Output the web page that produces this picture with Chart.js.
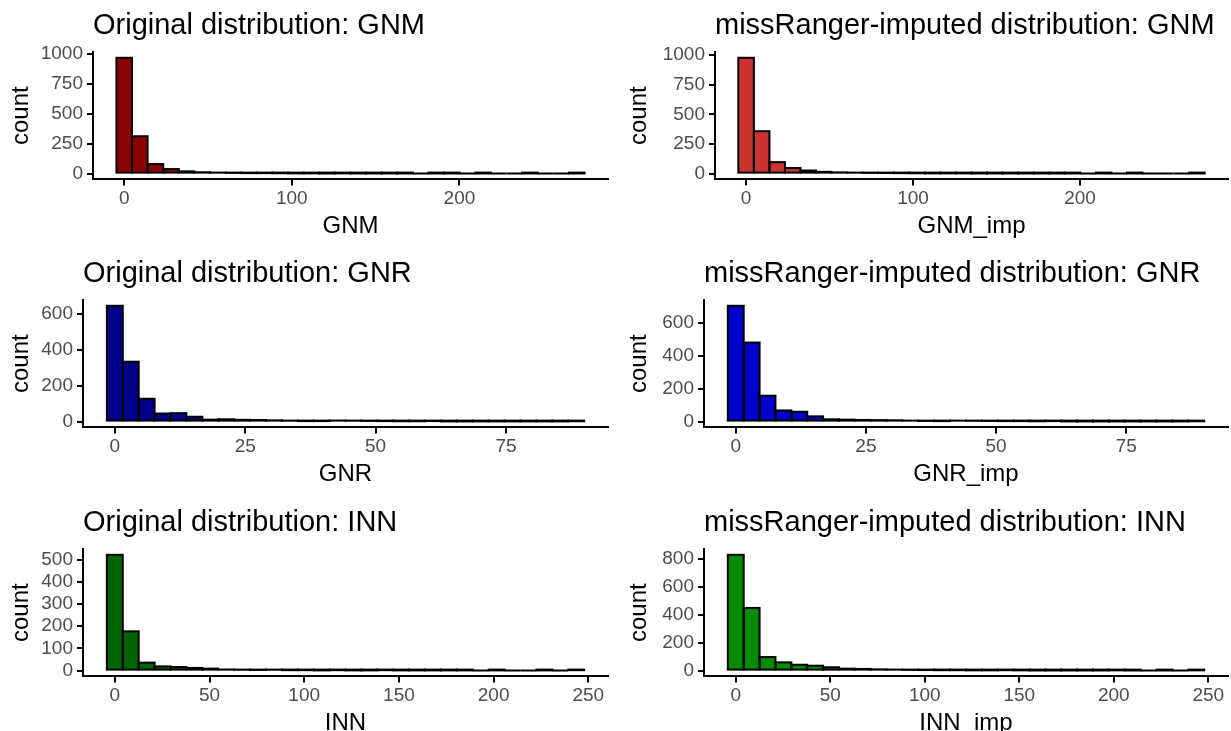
<!DOCTYPE html>
<html>
<head>
<meta charset="utf-8">
<title>Distribuciones originales e imputadas</title>
<script src="https://cdn.jsdelivr.net/npm/chart.js@4.4.1/dist/chart.umd.min.js"></script>
<style>
    html, body { margin: 0; padding: 0; background: #fff; overflow: hidden; width: 1231px; height: 731px; }
    .panel { position: absolute; }
</style>
</head>
<body>
<div class="panel" style="left:0px;top:0px"><canvas id="gnm-orig" width="615" height="241"></canvas></div>
<div class="panel" style="left:615px;top:0px"><canvas id="gnm-imp" width="616" height="241"></canvas></div>
<div class="panel" style="left:0px;top:248px"><canvas id="gnr-orig" width="615" height="241"></canvas></div>
<div class="panel" style="left:615px;top:248px"><canvas id="gnr-imp" width="616" height="241"></canvas></div>
<div class="panel" style="left:0px;top:497px"><canvas id="inn-orig" width="615" height="241"></canvas></div>
<div class="panel" style="left:615px;top:497px"><canvas id="inn-imp" width="616" height="241"></canvas></div>
<script>
// 30 bins por variable (ggplot por defecto), centrados en 0
var nBins = 30;
var gnmBinWidth = 9.31;
var gnrBinWidth = 3.05;
var innBinWidth = 8.4;

// conteos
var gnmOriginal = [967, 312, 80, 38, 19, 11, 8, 6, 4, 4, 3, 2, 2, 1, 2, 1, 1, 1, 1, 0, 1, 1, 0, 1, 0, 0, 1, 0, 0, 1];
var gnmImputed  = [978, 358, 97, 47, 26, 15, 10, 8, 6, 5, 4, 3, 2, 2, 2, 1, 1, 1, 1, 1, 1, 1, 0, 1, 0, 1, 0, 0, 0, 1];
var gnrOriginal = [644, 333, 127, 45, 47, 27, 11, 13, 10, 9, 7, 5, 3, 3, 6, 5, 4, 3, 2, 2, 3, 1, 1, 1, 1, 1, 1, 1, 1, 2];
var gnrImputed  = [706, 482, 158, 68, 60, 32, 14, 12, 10, 9, 8, 6, 4, 3, 6, 5, 4, 3, 3, 2, 3, 1, 1, 1, 1, 1, 1, 1, 1, 2];
var innOriginal = [522, 177, 36, 19, 16, 12, 9, 5, 4, 3, 4, 2, 2, 1, 2, 1, 1, 2, 1, 1, 1, 1, 1, 0, 1, 0, 0, 1, 0, 2];
var innImputed  = [828, 448, 97, 59, 42, 35, 24, 14, 12, 9, 7, 5, 4, 3, 3, 2, 2, 3, 2, 1, 1, 1, 1, 1, 2, 1, 0, 1, 0, 2];

// ticks
var gnmXTicks = [0, 100, 200];
var gnrXTicks = [0, 25, 50, 75];
var innXTicks = [0, 50, 100, 150, 200, 250];
var gnmYTicks = [0, 250, 500, 750, 1000];
var gnrYTicks = [0, 200, 400, 600];
var innOrigYTicks = [0, 100, 200, 300, 400, 500];
var innImpYTicks = [0, 200, 400, 600, 800];

var fam = "'Liberation Sans', Arial, sans-serif";

// contorno negro de cada barra (tambien las de altura 0, como geom_histogram)
var contornoBarras = {
    id: 'contornoBarras',
    afterDatasetsDraw: function (chart) {
        var ctx = chart.ctx;
        var meta = chart.getDatasetMeta(0);
        ctx.save();
        ctx.strokeStyle = '#000';
        ctx.lineWidth = 2;
        meta.data.forEach(function (bar) {
            var p = bar.getProps(['x', 'y', 'base', 'width'], true);
            ctx.strokeRect(p.x - p.width / 2, p.y, p.width, p.base - p.y);
        });
        ctx.restore();
    }
};

function binCenters(w) {
    var out = [];
    for (var i = 0; i < nBins; i++) out.push(i * w);
    return out;
}

function pintarHistograma(destino, titulo, xTitulo, conteos, binWidth, xTicks, yTicks, color, yAncho, padIzq, padDer) {
    var centros = binCenters(binWidth);
    var puntos = conteos.map(function (v, i) { return { x: centros[i], y: v }; });
    var lo = -binWidth / 2, hi = centros[nBins - 1] + binWidth / 2;
    var ex = (hi - lo) * 0.05;
    var maxY = Math.max.apply(null, conteos);

    var ctx = document.getElementById(destino).getContext('2d');
    new Chart(ctx, {
        type: 'bar',
        data: {
            datasets: [{
                data: puntos,
                backgroundColor: color,
                borderWidth: 0,
                inflateAmount: 0,
                barPercentage: 1,
                categoryPercentage: 1
            }]
        },
        options: {
            responsive: false,
            animation: false,
            layout: { padding: { left: padIzq, right: padDer, top: 0, bottom: 0 } },
            plugins: {
                legend: { display: false },
                tooltip: { enabled: false },
                title: {
                    display: true,
                    text: titulo,
                    align: 'start',
                    fullSize: false,
                    color: '#000',
                    font: { family: fam, size: 29, weight: 'normal' },
                    padding: { top: 9, bottom: 8.2 }
                }
            },
            scales: {
                x: {
                    type: 'linear',
                    min: lo - ex,
                    max: hi + ex,
                    offset: false,
                    grid: { display: true, drawOnChartArea: false, drawTicks: true, tickLength: 6, color: '#000', lineWidth: 2, offset: false },
                    border: { display: true, color: '#000', width: 2 },
                    ticks: {
                        color: '#4D4D4D', font: { family: fam, size: 19 }, padding: 2, maxRotation: 0, autoSkip: false,
                        callback: function (v) { return String(v); }
                    },
                    afterBuildTicks: function (s) { s.ticks = xTicks.map(function (v) { return { value: v }; }); },
                    title: { display: true, text: xTitulo, color: '#000', font: { family: fam, size: 24 }, padding: { top: 0, bottom: 0 } }
                },
                y: {
                    type: 'linear',
                    min: -0.05 * maxY,
                    max: 1.05 * maxY,
                    grid: { display: true, drawOnChartArea: false, drawTicks: true, tickLength: 6, color: '#000', lineWidth: 2 },
                    border: { display: true, color: '#000', width: 2 },
                    ticks: {
                        color: '#4D4D4D', font: { family: fam, size: 19 }, padding: 4, autoSkip: false,
                        callback: function (v) { return String(v); }
                    },
                    afterBuildTicks: function (s) { s.ticks = yTicks.map(function (v) { return { value: v }; }); },
                    afterFit: function (s) { s.width = yAncho; },
                    title: { display: true, text: 'count', color: '#000', font: { family: fam, size: 24 }, padding: { top: 0, bottom: 0 } }
                }
            }
        },
        plugins: [contornoBarras]
    });
}

pintarHistograma('gnm-orig', 'Original distribution: GNM', 'GNM', gnmOriginal, gnmBinWidth, gnmXTicks, gnmYTicks, '#8B0000', 86, 7, 7);
pintarHistograma('gnm-imp', 'missRanger-imputed distribution: GNM', 'GNM_imp', gnmImputed, gnmBinWidth, gnmXTicks, gnmYTicks, '#CC3333', 90, 10, 3);
pintarHistograma('gnr-orig', 'Original distribution: GNR', 'GNR', gnrOriginal, gnrBinWidth, gnrXTicks, gnrYTicks, '#00008B', 76, 7, 7);
pintarHistograma('gnr-imp', 'missRanger-imputed distribution: GNR', 'GNR_imp', gnrImputed, gnrBinWidth, gnrXTicks, gnrYTicks, '#0000CD', 79, 10, 3);
pintarHistograma('inn-orig', 'Original distribution: INN', 'INN', innOriginal, innBinWidth, innXTicks, innOrigYTicks, '#006400', 76, 7, 7);
pintarHistograma('inn-imp', 'missRanger-imputed distribution: INN', 'INN_imp', innImputed, innBinWidth, innXTicks, innImpYTicks, '#008B00', 79, 10, 3);
</script>
</body>
</html>
